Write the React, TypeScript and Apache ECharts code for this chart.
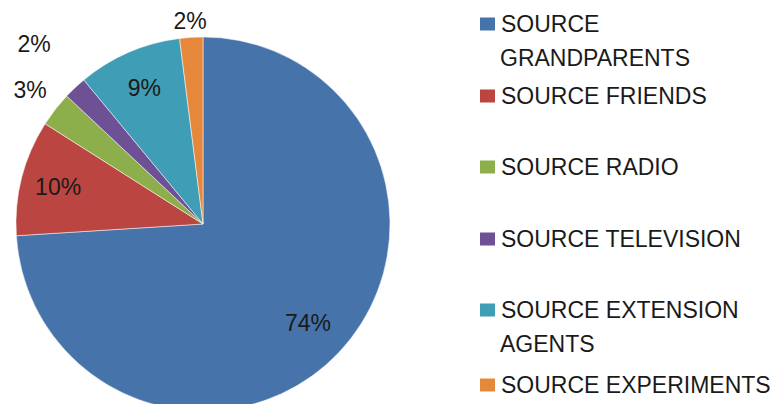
import React, { useEffect, useRef } from "react";
import * as echarts from "echarts";

const categories = [
  "SOURCE GRANDPARENTS",
  "SOURCE FRIENDS",
  "SOURCE RADIO",
  "SOURCE TELEVISION",
  "SOURCE EXTENSION AGENTS",
  "SOURCE EXPERIMENTS",
];
const values = [74, 10, 3, 2, 9, 2];
const colors = ["#4673A9", "#BA4541", "#8CAF4B", "#6E5194", "#3F9DB5", "#E6883C"];
// legend first-line texts and wrapped second lines
const legendFirstLines = [
  "SOURCE",
  "SOURCE FRIENDS",
  "SOURCE RADIO",
  "SOURCE TELEVISION",
  "SOURCE EXTENSION",
  "SOURCE EXPERIMENTS",
];
const legendSecondLines = ["GRANDPARENTS", "", "", "", "AGENTS", ""];

// layout parameters
const CX = 203;
const CY = 224;
const R = 187;
const labelRadiusRatio = [0.77, 0.8, 1.17, 1.32, 0.79, 1.09];
const legendCenters = [24, 96, 167, 239, 310, 385];
const FONT = "'Liberation Sans', Arial, sans-serif";
const FS = 23;

export default function App() {
  const ref = useRef<HTMLDivElement>(null);
  useEffect(() => {
    document.body.style.margin = "0";
    const chart = echarts.init(ref.current!, null, { renderer: "svg" });
    const total = values.reduce((a, b) => a + b, 0);
    const mids: number[] = [];
    let acc = 0;
    values.forEach((v) => {
      mids.push((acc + v / 2) / total);
      acc += v;
    });

    const legends: any[] = categories.map((name, i) => ({
      data: [name],
      orient: "vertical",
      left: 478,
      top: legendCenters[i] - 12,
      padding: 0,
      itemWidth: 17,
      itemHeight: 15,
      icon: "rect",
      selectedMode: false,
      formatter: () => legendFirstLines[i],
      textStyle: {
        fontFamily: FONT,
        fontSize: FS,
        color: "#1a1a1a",
        lineHeight: 24,
      },
    }));

    const graphics: any[] = [];
    legendSecondLines.forEach((t, i) => {
      if (!t) return;
      graphics.push({
        type: "text",
        left: 500,
        top: legendCenters[i] + 34 - 12,
        style: {
          text: t,
          font: `${FS}px ${FONT}`,
          fill: "#1a1a1a",
          lineHeight: 24,
        },
      });
    });

    chart.setOption({
      animation: false,
      color: colors,
      legend: legends,
      graphic: graphics,
      series: [
        {
          type: "pie",
          center: [CX, CY],
          radius: R,
          startAngle: 90,
          clockwise: true,
          avoidLabelOverlap: false,
          data: categories.map((name, i) => ({ name, value: values[i] })),
          itemStyle: { borderColor: "#ffffff", borderWidth: 0.5 },
          label: {
            show: true,
            position: "outside",
            formatter: (p: any) => `${p.value}%`,
            fontFamily: FONT,
            fontSize: FS,
            color: "#1a1a1a",
          },
          labelLine: { show: false },
          emphasis: { disabled: true },
          labelLayout: (params: any) => {
            const i = params.dataIndex;
            const th = mids[i] * Math.PI * 2;
            const r = R * labelRadiusRatio[i];
            return {
              x: CX + r * Math.sin(th),
              y: CY - r * Math.cos(th),
              align: "center",
              verticalAlign: "middle",
            };
          },
        },
      ],
    });
    return () => chart.dispose();
  }, []);
  return <div ref={ref} style={{ width: 777, height: 404 }} />;
}
